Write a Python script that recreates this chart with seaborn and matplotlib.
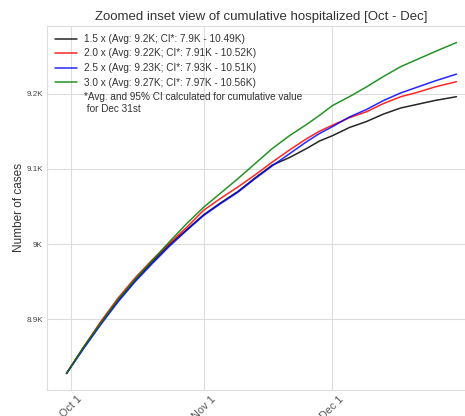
import pandas as pd
import numpy as np
import matplotlib
matplotlib.use("Agg")
import matplotlib.pyplot as plt
import matplotlib.dates as mdates
from matplotlib.ticker import FuncFormatter
import seaborn as sns

dates = ["2020-09-30", "2020-10-04", "2020-10-08", "2020-10-12", "2020-10-16",
         "2020-10-20", "2020-10-24", "2020-10-28", "2020-11-01", "2020-11-05",
         "2020-11-09", "2020-11-13", "2020-11-17", "2020-11-21", "2020-11-25",
         "2020-11-28", "2020-12-01", "2020-12-05", "2020-12-09", "2020-12-13",
         "2020-12-17", "2020-12-21", "2020-12-25", "2020-12-30"]

# cumulative hospitalized for each multiplier
hosp_15 = [8828, 8863, 8895, 8925, 8952, 8976, 8999, 9019, 9039, 9055,
           9070, 9088, 9105, 9115, 9127, 9137, 9144, 9155, 9163, 9173,
           9181, 9186, 9191, 9196]
hosp_20 = [8828, 8863, 8897, 8928, 8955, 8979, 9001, 9022, 9045, 9061,
           9076, 9092, 9109, 9125, 9140, 9150, 9158, 9168, 9176, 9187,
           9196, 9202, 9209, 9216]
hosp_25 = [8828, 8861, 8893, 8923, 8950, 8974, 8997, 9018, 9038, 9054,
           9069, 9087, 9104, 9120, 9136, 9147, 9156, 9169, 9179, 9191,
           9201, 9209, 9217, 9226]
hosp_30 = [8828, 8863, 8895, 8926, 8953, 8978, 9003, 9027, 9049, 9068,
           9087, 9107, 9127, 9144, 9159, 9171, 9184, 9196, 9209, 9223,
           9236, 9246, 9256, 9268]

labels = ["1.5 x (Avg: 9.2K; CI*: 7.9K - 10.49K)",
          "2.0 x (Avg: 9.22K; CI*: 7.91K - 10.52K)",
          "2.5 x (Avg: 9.23K; CI*: 7.93K - 10.51K)",
          "3.0 x (Avg: 9.27K; CI*: 7.97K - 10.56K)"]
colors = ["black", "red", "blue", "green"]
note = "*Avg. and 95% CI calculated for cumulative value\n for Dec 31st"

sns.set_style("whitegrid")
plt.rcParams["font.family"] = ["Liberation Sans", "DejaVu Sans"]

fig = plt.figure(figsize=(4.65, 4.16), dpi=100)
ax = fig.add_axes([47 / 465, 26 / 416, 429 / 465, 364 / 416])

x = pd.to_datetime(dates)
for series, lab, col in zip([hosp_15, hosp_20, hosp_25, hosp_30], labels, colors):
    sns.lineplot(x=x, y=series, ax=ax, color=col, label=lab, linewidth=1.1, alpha=0.85)

# extra legend row for the footnote
ax.plot([], [], " ", label=note)

ax.xaxis.set_major_locator(mdates.MonthLocator(bymonth=[10, 11, 12]))
ax.xaxis.set_major_formatter(mdates.DateFormatter("%b %-d"))
ax.yaxis.set_major_formatter(FuncFormatter(lambda v, p: f"{v / 1000:g}K"))
for t in ax.get_xticklabels():
    t.set_rotation(45)
ax.tick_params(axis="both", length=0)
ax.tick_params(axis="x", labelsize=7.8, colors="#555555", pad=3)
ax.tick_params(axis="y", labelsize=5.8, colors="#444444", pad=3)

ax.set_xlabel("")
ax.set_ylabel("Number of cases", fontsize=8.5, color="#333333", labelpad=1)
ax.set_title("Zoomed inset view of cumulative hospitalized [Oct - Dec]",
             fontsize=9.5, color="#333333", pad=4)
ax.grid(color="#dddddd", linewidth=0.8)
for s in ax.spines.values():
    s.set_color("#dddddd")

ax.legend(loc="upper left", frameon=False, fontsize=7.2, handlelength=2.2,
          borderaxespad=0.4, labelspacing=0.45, handletextpad=0.7,
          labelcolor="#333333")

fig.savefig("out.png", dpi=100)
